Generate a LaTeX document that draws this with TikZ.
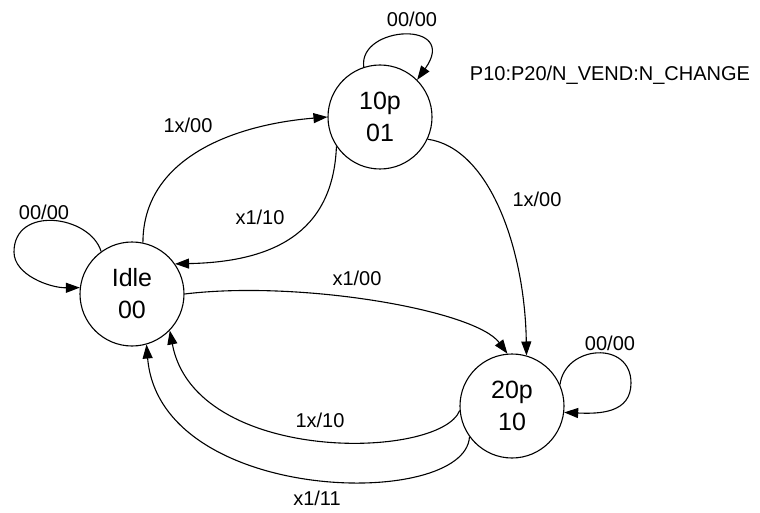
\documentclass[tikz,border=0pt]{standalone}
\usepackage{fontspec}
\setmainfont{Liberation Sans}
\usetikzlibrary{arrows.meta}
\tikzset{
  state/.style={draw, circle, line width=1.1pt, minimum size=104pt, inner sep=0pt, align=center, font=\fontsize{25}{32}\selectfont},
  edge/.style={draw, line width=1.1pt, -{Triangle[length=14pt,width=10pt]}},
  lbl/.style={font=\fontsize{20}{24}\selectfont, inner sep=0pt},
}
\begin{document}
\begin{tikzpicture}[x=1pt,y=-1pt]
\useasboundingbox (0,0) rectangle (760,513);
\node[state] (idle) at (132,294) {Idle\\00};
\node[state] (tenp) at (380,117) {10p\\01};
\node[state] (twop) at (512,406) {20p\\10};
\node[lbl] (hdr) at (610,75) {P10:P20/N\_VEND:N\_CHANGE};

% self loops
\draw[edge] (idle.126) .. controls (90,215) and (14,205) .. (14,252) .. controls (14,275) and (50,288) .. (idle.173);
\node[lbl] (l1) at (44,212) {00/00};
\draw[edge] (tenp.108) .. controls (358,25) and (460,20) .. (tenp.45);
\node[lbl] (l2) at (412,19) {00/00};
\draw[edge] (twop.24) .. controls (565,345) and (631,340) .. (631,383) .. controls (631,413) and (600,414) .. (twop.353);
\node[lbl] (l3) at (610,343) {00/00};

% transitions
\draw[edge] (idle.78) .. controls (143,160) and (230,125) .. (tenp.180);
\node[lbl] (l4) at (188,125) {1x/00};
\draw[edge] (tenp.214) .. controls (333,235) and (270,262) .. (idle.35);
\node[lbl] (l5) at (260,217) {x1/10};
\draw[edge] (tenp.335) .. controls (490,148) and (525,250) .. (twop.74);
\node[lbl] (l6) at (537,199) {1x/00};
\draw[edge] (idle.0) .. controls (300,280) and (475,310) .. (twop.95);
\node[lbl] (l7) at (357,278) {x1/00};
\draw[edge] (twop.185) .. controls (440,460) and (195,465) .. (idle.316);
\node[lbl] (l8) at (320,420) {1x/10};
\draw[edge] (twop.216) .. controls (465,510) and (160,505) .. (idle.286);
\node[lbl] (l9) at (317,498) {x1/11};
\end{tikzpicture}
\end{document}
